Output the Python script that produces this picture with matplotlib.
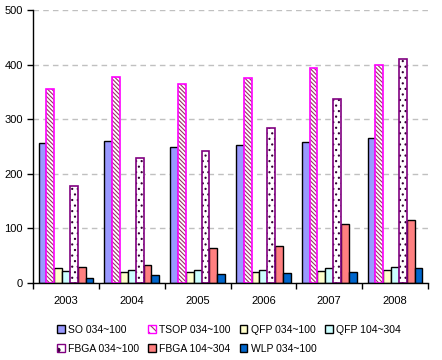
import numpy as np
import matplotlib.pyplot as plt
from matplotlib.patches import Patch

plt.rcParams['font.family'] = ['Liberation Sans', 'DejaVu Sans']
plt.rcParams['hatch.linewidth'] = 0.8

years = ["2003", "2004", "2005", "2006", "2007", "2008"]
so_034 = [257, 260, 249, 253, 258, 266]
tsop_034 = [355, 377, 365, 375, 393, 399]
qfp_034 = [27, 20, 20, 20, 22, 24]
qfp_104 = [22, 24, 23, 23, 26, 28]
fbga_034 = [178, 229, 242, 284, 336, 411]
fbga_104 = [29, 32, 64, 67, 108, 115]
wlp_034 = [9, 14, 16, 17, 20, 27]

DIAG = "\\" * 8
DOTS = "..."

fig = plt.figure(figsize=(4.42, 3.6), dpi=100)
ax = fig.add_axes([0.075, 0.215, 0.893, 0.757])

x = np.arange(len(years))
w = 0.119
offs = (np.arange(7) - 3) * w

ax.bar(x + offs[0], so_034, w, color="#9999FF", edgecolor="black", lw=1, zorder=3)
# hatched bar: hatch layer then magenta outline
ax.bar(x + offs[1], tsop_034, w, color="white", edgecolor="#993366", hatch=DIAG, lw=0, zorder=3)
ax.bar(x + offs[1], tsop_034, w, fill=False, edgecolor="#FF00FF", lw=1.2, zorder=4)
ax.bar(x + offs[2], qfp_034, w, color="#FFFFCC", edgecolor="black", lw=1, zorder=3)
ax.bar(x + offs[3], qfp_104, w, color="#CCFFFF", edgecolor="black", lw=1, zorder=3)
ax.bar(x + offs[4], fbga_034, w, color="white", edgecolor="#330033", hatch=DOTS, lw=0, zorder=3)
ax.bar(x + offs[4], fbga_034, w, fill=False, edgecolor="#800080", lw=1.2, zorder=4)
ax.bar(x + offs[5], fbga_104, w, color="#FF8080", edgecolor="black", lw=1, zorder=3)
ax.bar(x + offs[6], wlp_034, w, color="#0066CC", edgecolor="black", lw=1, zorder=3)

ax.set_xlim(-0.5, len(years) - 0.5)
ax.set_ylim(0, 500)
ax.set_yticks(range(0, 501, 100))
ax.set_xticks(x)
ax.set_xticklabels(years)
ax.set_xticks(np.arange(-0.5, len(years)), minor=True)
ax.tick_params(axis="x", which="major", length=0, pad=10, labelsize=8)
ax.tick_params(axis="x", which="minor", length=4, direction="out", width=1)
ax.tick_params(axis="y", length=4, direction="out", width=1, labelsize=8)
ax.yaxis.grid(True, linestyle=(0, (4, 3)), color="#C0C0C0", lw=1, zorder=0)
for s in ["top", "right"]:
    ax.spines[s].set_visible(False)
for s in ["left", "bottom"]:
    ax.spines[s].set_linewidth(1)
    ax.spines[s].set_zorder(5)

h_so = Patch(facecolor="#9999FF", edgecolor="black")
h_tsop = (Patch(facecolor="white", edgecolor="#993366", hatch="\\\\\\\\", lw=0),
          Patch(fill=False, edgecolor="#FF00FF"))
h_qfp1 = Patch(facecolor="#FFFFCC", edgecolor="black")
h_qfp2 = Patch(facecolor="#CCFFFF", edgecolor="black")
h_fbga1 = (Patch(facecolor="white", edgecolor="#330033", hatch=".", lw=0),
           Patch(fill=False, edgecolor="#800080"))
h_fbga2 = Patch(facecolor="#FF8080", edgecolor="black")
h_wlp = Patch(facecolor="#0066CC", edgecolor="black")

# legend fills column by column, so order gives rows:
# SO, TSOP, QFP, QFP / FBGA, FBGA, WLP
handles = [h_so, h_fbga1, h_tsop, h_fbga2, h_qfp1, h_wlp, h_qfp2]
labels = ["SO 034~100", "FBGA 034~100", "TSOP 034~100", "FBGA 104~304",
          "QFP 034~100", "WLP 034~100", "QFP 104~304"]
fig.legend(handles, labels, loc="upper left", bbox_to_anchor=(0.118, 0.112),
           ncol=4, frameon=False, fontsize=7.5, handlelength=0.75, handleheight=0.75,
           handletextpad=0.3, columnspacing=0.85, labelspacing=0.85, borderpad=0)

fig.savefig("out.png", dpi=100)
